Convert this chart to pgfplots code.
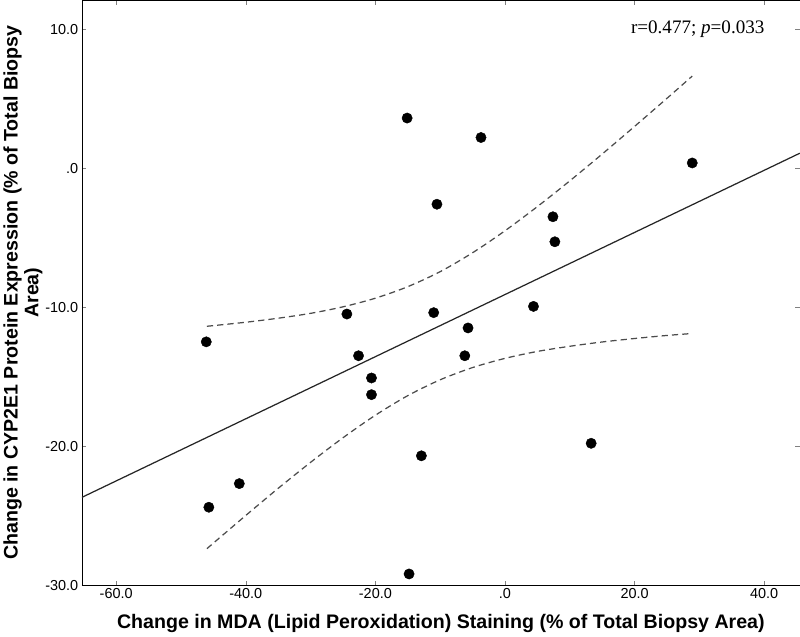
\documentclass[border=0pt]{standalone}
\usepackage{fontspec}
\setmainfont{Liberation Sans}
\usepackage{pgfplots}
\pgfplotsset{compat=1.18}

\begin{document}
\begin{tikzpicture}
\begin{axis}[
    scale only axis,
    width=696pt, height=567pt,
    xmin=-65.3, xmax=45.5,
    ymin=-30, ymax=12.08,
    xtick={-60,-40,-20,0,20,40},
    xticklabels={-60.0,-40.0,-20.0,.0,20.0,40.0},
    ytick={-30,-20,-10,0,10},
    yticklabels={-30.0,-20.0,-10.0,.0,10.0},
    ticklabel style={font=\fontsize{14}{16}\selectfont},
    xlabel={Change in MDA (Lipid Peroxidation) Staining (\% of Total Biopsy Area)},
    ylabel={Change in CYP2E1 Protein Expression (\% of Total Biopsy\\Area)},
    label style={font=\bfseries\fontsize{19}{20}\selectfont},
    ylabel style={align=center, yshift=-4pt},
    xlabel style={yshift=-8pt},
]
% regression line
\addplot[black!85, line width=1.2pt] coordinates {(-65.3,-23.69) (45.5,1.07)};
% upper confidence band
\addplot[black!70, line width=1.2pt, dash pattern=on 6pt off 4pt, smooth] coordinates {
(-46,-11.38) (-40,-11.09) (-35,-10.80) (-30,-10.45) (-25,-9.98) (-20,-9.36)
(-15,-8.53) (-10,-7.45) (-5,-6.09) (0,-4.51) (5,-2.77) (10,-0.92)
(15,1.01) (20,3.00) (25,5.02) (28.9,6.62)};
% lower confidence band
\addplot[black!70, line width=1.2pt, dash pattern=on 6pt off 4pt, smooth] coordinates {
(-46,-27.38) (-40,-24.99) (-35,-23.04) (-30,-21.17) (-25,-19.40) (-20,-17.78)
(-15,-16.37) (-10,-15.23) (-5,-14.35) (0,-13.69) (5,-13.19) (10,-12.82)
(15,-12.51) (20,-12.26) (25,-12.04) (28.9,-11.90)};
% observations
\addplot[only marks, mark=*, mark size=5pt, black] coordinates {
(-46.1,-12.5) (-45.7,-24.4) (-41.0,-22.7) (-24.4,-10.5) (-22.6,-13.5)
(-20.6,-15.1) (-20.6,-16.3) (-15.1,3.6) (-14.8,-29.2) (-12.9,-20.7)
(-11.0,-10.4) (-10.5,-2.6) (-6.2,-13.5) (-5.7,-11.5) (-3.7,2.2)
(4.4,-9.95) (7.4,-3.5) (7.7,-5.3) (13.3,-19.8) (28.9,0.37)};
\node[anchor=east, font=\fontspec{Liberation Serif}\fontsize{18.5}{20}\selectfont] at (axis cs:40.6,10.0) {r=0.477; \textit{p}=0.033};
\end{axis}
\end{tikzpicture}
\end{document}
